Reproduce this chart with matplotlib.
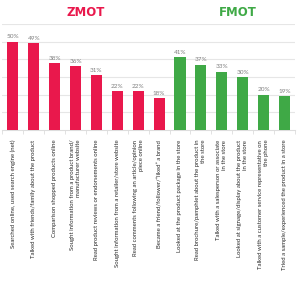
import matplotlib
matplotlib.use("Agg")
import matplotlib.pyplot as plt
import numpy as np

categories = [
    "Searched online, used search engine (net)",
    "Talked with friends/family about the product",
    "Comparison shopped products online",
    "Sought information from a product brand/\nmanufacturer website",
    "Read product reviews or endorsements online",
    "Sought information from a retailer/store website",
    "Read comments following an article/opinion\npiece online",
    "Became a friend/follower/\u201cliked\u201d a brand",
    "Looked at the product package in the store",
    "Read brochure/pamphlet about the product in\nthe store",
    "Talked with a salesperson or associate\nin the store",
    "Looked at signage/display about the product\nin the store",
    "Talked with a customer service representative on\nthe phone",
    "Tried a sample/experienced the product in a store",
]
values = [50, 49, 38, 36, 31, 22, 22, 18, 41, 37, 33, 30, 20, 19]
groups = ["ZMOT"] * 8 + ["FMOT"] * 6
group_titles = ["ZMOT", "FMOT"]

PINK = "#E9184C"
GREEN = "#3FA946"
colors = {"ZMOT": PINK, "FMOT": GREEN}

fig = plt.figure(figsize=(3.0, 2.83), dpi=100)
ax = fig.add_axes([0.008, 1 - 130 / 283, 0.975, (130 - 23.8) / 283])

x = np.arange(len(values))
ax.bar(x, values, width=0.53, color=[colors[g] for g in groups], zorder=3)

for xi, v in zip(x, values):
    ax.text(xi, v + 1.2, f"{v}%", ha="center", va="bottom", fontsize=4.6,
            color="#808080", family="Lato")

ax.set_xlim(-0.5, len(values) - 0.5)
ax.set_ylim(0, 60)
ax.set_yticks(np.arange(10, 61, 10))
ax.yaxis.grid(True, color="#E6E6E6", linewidth=0.8, zorder=0)
ax.tick_params(axis="y", left=False, labelleft=False)
for s in ["top", "right", "left"]:
    ax.spines[s].set_visible(False)
ax.spines["bottom"].set_color("#DDDDDD")
ax.spines["bottom"].set_linewidth(0.8)

ax.set_xticks(x)
ax.set_xticklabels(categories, rotation=90, fontsize=4.3, family="Lato",
                   color="#2A2A2A", ha="center", va="top", multialignment="right")
ax.tick_params(axis="x", which="major", length=0, pad=7)
ax.set_xticks(np.arange(-0.5, len(values), 1), minor=True)
ax.tick_params(axis="x", which="minor", length=3, color="#DDDDDD", width=0.6)

# group titles centred over each group of bars
for g in group_titles:
    idx = [i for i, gg in enumerate(groups) if gg == g]
    cx = (min(idx) + max(idx)) / 2
    xf = ax.transData.transform((cx, 0))[0] / fig.bbox.width
    fig.text(xf + (0.0 if g == "ZMOT" else 0.02), 1 - 13 / 283, g, ha="center", va="center",
             fontsize=8.5, fontweight="bold", color=colors[g], family="DejaVu Sans")

fig.savefig("out.png", dpi=100)
